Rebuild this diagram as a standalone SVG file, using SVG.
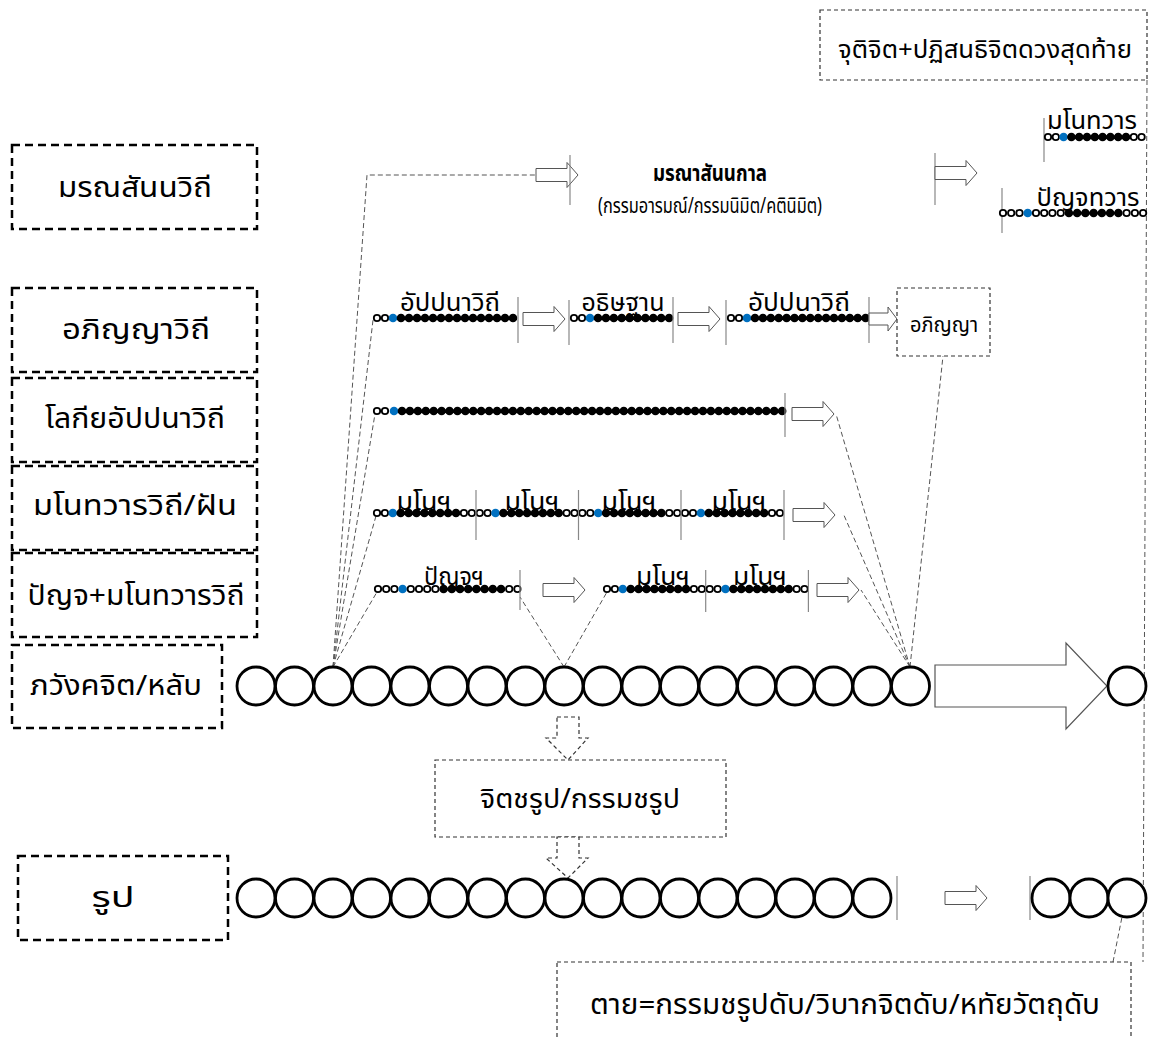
<svg xmlns="http://www.w3.org/2000/svg" width="1159" height="1037" viewBox="0 0 1159 1037">
<style>
text{font-family:"Noto Sans Thai","Noto Sans","DejaVu Sans",sans-serif;fill:#000;text-anchor:middle}
.lbl{font-size:28px}
.sm{font-size:24px}
.lbox{fill:none;stroke:#000;stroke-width:2.5;stroke-dasharray:8 5}
.tbox{fill:#fff;stroke:#333;stroke-width:1.2;stroke-dasharray:4 3}
.big{fill:#fff;stroke:#000;stroke-width:2.8}
.h{fill:#fff;stroke:#000;stroke-width:1.8}
.b{fill:#0070C0}
.kd{fill:none;stroke:#000;stroke-width:8.6;stroke-linecap:round;stroke-dasharray:0 7.9}
.vl{stroke:#888;stroke-width:1.2}
.dash{fill:none;stroke:#555;stroke-width:1;stroke-dasharray:5 3}
.arr{fill:#fff;stroke:#555;stroke-width:1}
.darr{fill:#fff;stroke:#333;stroke-width:1.2;stroke-dasharray:4 3}
</style>
<defs>
<path id="arr" class="arr" d="M0,-6.5H31V-12.5L42,0L31,12.5V6.5H0Z"/>
</defs>

<!-- left labels -->
<g id="n-marana"><rect class="lbox" x="12" y="145" width="245" height="84"/><text class="lbl" x="135" y="197" textLength="154" lengthAdjust="spacingAndGlyphs">มรณสันนวิถี</text></g>
<g id="n-abhinna-vithi"><rect class="lbox" x="12" y="288" width="245" height="84"/><text class="lbl" x="136" y="339" textLength="148" lengthAdjust="spacingAndGlyphs">อภิญญาวิถี</text></g>
<g id="n-lokiya"><rect class="lbox" x="12" y="378" width="245" height="84"/><text class="lbl" x="135" y="428" textLength="180" lengthAdjust="spacingAndGlyphs">โลกียอัปปนาวิถี</text></g>
<g id="n-mano"><rect class="lbox" x="12" y="466" width="245" height="84"/><text class="lbl" x="135" y="515" textLength="204" lengthAdjust="spacingAndGlyphs">มโนทวารวิถี/ฝัน</text></g>
<g id="n-panca"><rect class="lbox" x="12" y="553" width="245" height="84"/><text class="lbl" x="136" y="605" textLength="217" lengthAdjust="spacingAndGlyphs">ปัญจ+มโนทวารวิถี</text></g>
<g id="n-bhavanga"><rect class="lbox" x="12" y="645" width="210" height="83"/><text class="lbl" x="116" y="695" textLength="172" lengthAdjust="spacingAndGlyphs">ภวังคจิต/หลับ</text></g>
<g id="n-rupa"><rect class="lbox" x="18" y="856" width="210" height="84"/><text class="lbl" x="113" y="907" textLength="43" lengthAdjust="spacingAndGlyphs">รูป</text></g>

<!-- connectors -->
<g id="connectors">
<path class="dash" d="M333,667L367,175H536"/>
<path class="dash" d="M333,667L373,320"/>
<path class="dash" d="M333,667L375,414"/>
<path class="dash" d="M333,667L376,516"/>
<path class="dash" d="M333,667L377,592"/>
<path class="dash" d="M564,667L520,597"/>
<path class="dash" d="M564,667L607,592"/>
<path class="dash" d="M910,667L943,356"/>
<path class="dash" d="M910,667L836,414"/>
<path class="dash" d="M910,667L843,513"/>
<path class="dash" d="M910,667L861,590"/>
<path class="dash" d="M1147,80L1143,962"/>
<path class="dash" d="M1113,962L1122,917"/>
</g>

<!-- marana row -->
<g id="n-maranasanna">
<use href="#arr" x="536" y="175"/>
<line class="vl" x1="570" y1="155" x2="570" y2="205"/>
<text x="710" y="181" style="font-size:23px;font-weight:bold" textLength="114" lengthAdjust="spacingAndGlyphs">มรณาสันนกาล</text>
<text x="710" y="213" style="font-size:21px" textLength="224" lengthAdjust="spacingAndGlyphs">(กรรมอารมณ์/กรรมนิมิต/คตินิมิต)</text>
<line class="vl" x1="935" y1="153" x2="935" y2="205"/>
<use href="#arr" x="935" y="173"/>
</g>

<g id="n-manodvara-end">
<line class="vl" x1="1044" y1="118" x2="1044" y2="162"/>
<text class="sm" x="1092" y="129" textLength="90" lengthAdjust="spacingAndGlyphs">มโนทวาร</text>
<circle class="h" cx="1048" cy="137" r="3.2"/><circle class="h" cx="1055.8" cy="137" r="3.2"/>
<circle class="b" cx="1063.6" cy="137" r="4.3"/>
<path class="kd" style="stroke-dasharray:0 7.8" d="M1071.4,137H1126.01"/>
<circle class="h" cx="1133.8" cy="137" r="3.2"/><circle class="h" cx="1141.6" cy="137" r="3.2"/>
</g>
<g id="n-pancadvara-end">
<line class="vl" x1="1002" y1="188" x2="1002" y2="233"/>
<text class="sm" x="1088" y="206" textLength="103" lengthAdjust="spacingAndGlyphs">ปัญจทวาร</text>
<circle class="h" cx="1003" cy="213" r="3.2"/><circle class="h" cx="1011.2" cy="213" r="3.2"/><circle class="h" cx="1019.5" cy="213" r="3.2"/>
<circle class="b" cx="1027.7" cy="213" r="4.3"/>
<circle class="h" cx="1036" cy="213" r="3.2"/><circle class="h" cx="1044.2" cy="213" r="3.2"/><circle class="h" cx="1052.4" cy="213" r="3.2"/><circle class="h" cx="1060.7" cy="213" r="3.2"/>
<path class="kd" style="stroke-dasharray:0 8.24" d="M1068.9,213H1118.35"/>
<circle class="h" cx="1126.6" cy="213" r="3.2"/><circle class="h" cx="1134.9" cy="213" r="3.2"/><circle class="h" cx="1143.1" cy="213" r="3.2"/>
</g>

<g id="n-cuti"><rect class="tbox" x="820" y="10" width="327" height="70"/><text class="sm" x="985" y="58" textLength="294" lengthAdjust="spacingAndGlyphs">จุติจิต+ปฏิสนธิจิตดวงสุดท้าย</text></g>

<!-- abhinna row -->
<g id="n-abhinna-chain">
<text class="sm" x="450" y="311" textLength="100" lengthAdjust="spacingAndGlyphs">อัปปนาวิถี</text>
<circle class="h" cx="377" cy="318" r="3.2"/><circle class="h" cx="385" cy="318" r="3.2"/>
<circle class="b" cx="393" cy="318" r="4.3"/>
<path class="kd" style="stroke-dasharray:0 8" d="M401,318H513.01"/>
<line class="vl" x1="518" y1="297" x2="518" y2="343"/>
<use href="#arr" x="523" y="319"/>
<line class="vl" x1="569" y1="300" x2="569" y2="345"/>
<text class="sm" x="623" y="311" textLength="83" lengthAdjust="spacingAndGlyphs">อธิษฐาน</text>
<circle class="h" cx="574" cy="318" r="3.2"/><circle class="h" cx="582" cy="318" r="3.2"/>
<circle class="b" cx="590" cy="318" r="4.3"/>
<path class="kd" d="M598,318H669.11"/>
<line class="vl" x1="673" y1="297" x2="673" y2="343"/>
<use href="#arr" x="678" y="319"/>
<line class="vl" x1="726" y1="300" x2="726" y2="345"/>
<text class="sm" x="799" y="311" textLength="102" lengthAdjust="spacingAndGlyphs">อัปปนาวิถี</text>
<circle class="h" cx="731" cy="318" r="3.2"/><circle class="h" cx="739" cy="318" r="3.2"/>
<circle class="b" cx="747" cy="318" r="4.3"/>
<path class="kd" d="M755,318H865.61"/>
<line class="vl" x1="869" y1="297" x2="869" y2="343"/>
<path class="arr" d="M869,313H888V307L897,319L888,331V325H869Z"/>
</g>
<g id="n-abhinna"><rect class="tbox" x="897" y="288" width="93" height="68"/><text x="944" y="332" style="font-size:22px" textLength="68" lengthAdjust="spacingAndGlyphs">อภิญญา</text></g>

<!-- lokiya row -->
<g id="n-lokiya-chain">
<circle class="h" cx="377" cy="411" r="3.2"/><circle class="h" cx="385" cy="411" r="3.2"/>
<circle class="b" cx="394" cy="411" r="4.3"/>
<path class="kd" style="stroke-dasharray:0 7.92" d="M402,411H782.17"/>
<line class="vl" x1="785" y1="393" x2="785" y2="437"/>
<use href="#arr" x="792" y="414"/>
</g>

<!-- mano row -->
<g id="n-mano-chain">
<circle class="h" cx="377" cy="513" r="3.2"/><circle class="h" cx="384.9" cy="513" r="3.2"/>
<circle class="b" cx="392.8" cy="513" r="4.3"/>
<path class="kd" d="M400.7,513H456.01"/>
<circle class="h" cx="463.9" cy="513" r="3.2"/><circle class="h" cx="471.8" cy="513" r="3.2"/>
<circle class="h" cx="479.7" cy="513" r="3.2"/><circle class="h" cx="487.6" cy="513" r="3.2"/>
<circle class="b" cx="495.5" cy="513" r="4.3"/>
<path class="kd" d="M503.4,513H558.71"/>
<circle class="h" cx="566.6" cy="513" r="3.2"/><circle class="h" cx="574.5" cy="513" r="3.2"/>
<circle class="h" cx="582.4" cy="513" r="3.2"/><circle class="h" cx="590.3" cy="513" r="3.2"/>
<circle class="b" cx="598.2" cy="513" r="4.3"/>
<path class="kd" d="M606.1,513H661.41"/>
<circle class="h" cx="669.3" cy="513" r="3.2"/><circle class="h" cx="677.2" cy="513" r="3.2"/>
<circle class="h" cx="685.1" cy="513" r="3.2"/><circle class="h" cx="693" cy="513" r="3.2"/>
<circle class="b" cx="700.9" cy="513" r="4.3"/>
<path class="kd" d="M708.8,513H764.11"/>
<circle class="h" cx="772" cy="513" r="3.2"/><circle class="h" cx="779.9" cy="513" r="3.2"/>
<line class="vl" x1="476" y1="490" x2="476" y2="540"/>
<line class="vl" x1="578.5" y1="490" x2="578.5" y2="540"/>
<line class="vl" x1="681" y1="490" x2="681" y2="540"/>
<line class="vl" x1="784" y1="490" x2="784" y2="540"/>
<text class="sm" x="424" y="510" textLength="55" lengthAdjust="spacingAndGlyphs">มโนฯ</text>
<text class="sm" x="532" y="510" textLength="55" lengthAdjust="spacingAndGlyphs">มโนฯ</text>
<text class="sm" x="629" y="510" textLength="55" lengthAdjust="spacingAndGlyphs">มโนฯ</text>
<text class="sm" x="739" y="510" textLength="55" lengthAdjust="spacingAndGlyphs">มโนฯ</text>
<use href="#arr" x="793" y="515"/>
</g>

<!-- panca row -->
<g id="n-panca-chain">
<circle class="h" cx="378" cy="589" r="3.2"/><circle class="h" cx="386.2" cy="589" r="3.2"/><circle class="h" cx="394.4" cy="589" r="3.2"/>
<circle class="b" cx="402.6" cy="589" r="4.3"/>
<circle class="h" cx="410.8" cy="589" r="3.2"/><circle class="h" cx="419" cy="589" r="3.2"/><circle class="h" cx="427.2" cy="589" r="3.2"/><circle class="h" cx="435.4" cy="589" r="3.2"/>
<path class="kd" style="stroke-dasharray:0 8.2" d="M443.6,589H501.01"/>
<circle class="h" cx="509.2" cy="589" r="3.2"/><circle class="h" cx="517.4" cy="589" r="3.2"/>
<line class="vl" x1="520" y1="570" x2="520" y2="610"/>
<text class="sm" x="454" y="585" textLength="60" lengthAdjust="spacingAndGlyphs">ปัญจฯ</text>
<use href="#arr" x="543" y="590"/>
<circle class="h" cx="607" cy="589" r="3.2"/><circle class="h" cx="614.9" cy="589" r="3.2"/>
<circle class="b" cx="622.8" cy="589" r="4.3"/>
<path class="kd" d="M630.7,589H686.01"/>
<circle class="h" cx="693.9" cy="589" r="3.2"/><circle class="h" cx="701.8" cy="589" r="3.2"/>
<line class="vl" x1="705.7" y1="570" x2="705.7" y2="612"/>
<circle class="h" cx="709.7" cy="589" r="3.2"/><circle class="h" cx="717.6" cy="589" r="3.2"/>
<circle class="b" cx="725.5" cy="589" r="4.3"/>
<path class="kd" d="M733.4,589H788.71"/>
<circle class="h" cx="796.6" cy="589" r="3.2"/><circle class="h" cx="804.5" cy="589" r="3.2"/>
<line class="vl" x1="808.4" y1="570" x2="808.4" y2="612"/>
<text class="sm" x="663" y="585" textLength="54" lengthAdjust="spacingAndGlyphs">มโนฯ</text>
<text class="sm" x="760" y="585" textLength="54" lengthAdjust="spacingAndGlyphs">มโนฯ</text>
<use href="#arr" x="817" y="590"/>
</g>

<!-- bhavanga row -->
<g id="n-bhavanga-row">
<circle class="big" cx="256" cy="686" r="19"/><circle class="big" cx="294.5" cy="686" r="19"/><circle class="big" cx="333" cy="686" r="19"/><circle class="big" cx="371.5" cy="686" r="19"/><circle class="big" cx="410" cy="686" r="19"/><circle class="big" cx="448.5" cy="686" r="19"/><circle class="big" cx="487" cy="686" r="19"/><circle class="big" cx="525.5" cy="686" r="19"/><circle class="big" cx="564" cy="686" r="19"/><circle class="big" cx="602.5" cy="686" r="19"/><circle class="big" cx="641" cy="686" r="19"/><circle class="big" cx="679.5" cy="686" r="19"/><circle class="big" cx="718" cy="686" r="19"/><circle class="big" cx="756.5" cy="686" r="19"/><circle class="big" cx="795" cy="686" r="19"/><circle class="big" cx="833.5" cy="686" r="19"/><circle class="big" cx="872" cy="686" r="19"/><circle class="big" cx="910.5" cy="686" r="19"/>
<path class="arr" style="stroke-width:1.2" d="M935,665H1066V643L1107,686L1066,729V707H935Z"/>
<circle class="big" cx="1127" cy="686" r="19"/>
</g>

<g id="n-citta-rupa">
<path class="darr" d="M557,717H579V738H588L568,760L546,738H557Z"/>
<rect class="tbox" x="435" y="760" width="291" height="77"/>
<text x="580" y="808" style="font-size:27px" textLength="200" lengthAdjust="spacingAndGlyphs">จิตชรูป/กรรมชรูป</text>
<path class="darr" d="M557,837H579V858H588L568,878L546,858H557Z"/>
</g>

<!-- rupa row -->
<g id="n-rupa-row">
<circle class="big" cx="256" cy="898" r="19"/><circle class="big" cx="294.5" cy="898" r="19"/><circle class="big" cx="333" cy="898" r="19"/><circle class="big" cx="371.5" cy="898" r="19"/><circle class="big" cx="410" cy="898" r="19"/><circle class="big" cx="448.5" cy="898" r="19"/><circle class="big" cx="487" cy="898" r="19"/><circle class="big" cx="525.5" cy="898" r="19"/><circle class="big" cx="564" cy="898" r="19"/><circle class="big" cx="602.5" cy="898" r="19"/><circle class="big" cx="641" cy="898" r="19"/><circle class="big" cx="679.5" cy="898" r="19"/><circle class="big" cx="718" cy="898" r="19"/><circle class="big" cx="756.5" cy="898" r="19"/><circle class="big" cx="795" cy="898" r="19"/><circle class="big" cx="833.5" cy="898" r="19"/><circle class="big" cx="872" cy="898" r="19"/>
<line class="vl" x1="897" y1="876" x2="897" y2="920"/>
<use href="#arr" x="945" y="898"/>
<line class="vl" x1="1030" y1="876" x2="1030" y2="920"/>
<circle class="big" cx="1051" cy="898" r="19"/><circle class="big" cx="1089" cy="898" r="19"/><circle class="big" cx="1127" cy="898" r="19"/>
</g>

<g id="n-death"><rect class="tbox" x="557" y="962" width="574" height="90"/><text class="lbl" x="845" y="1014" textLength="510" lengthAdjust="spacingAndGlyphs">ตาย=กรรมชรูปดับ/วิบากจิตดับ/หทัยวัตถุดับ</text></g>
</svg>
